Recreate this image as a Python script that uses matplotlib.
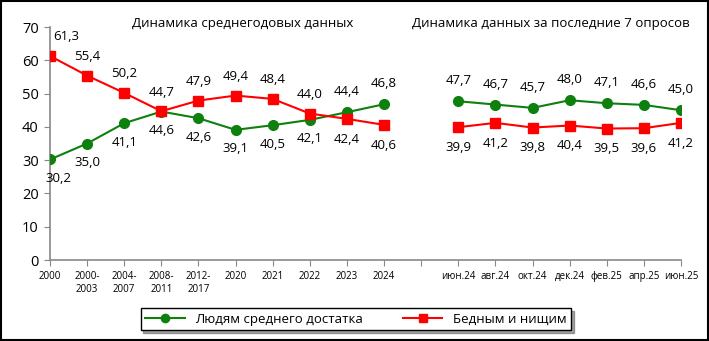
import matplotlib.pyplot as plt
from matplotlib.patches import Rectangle

plt.rcParams['font.family'] = ['Open Sans', 'DejaVu Sans']

# data
year_labels = ['2000', '2000-\n2003', '2004-\n2007', '2008-\n2011', '2012-\n2017',
               '2020', '2021', '2022', '2023', '2024']
survey_labels = ['июн.24', 'авг.24', 'окт.24', 'дек.24', 'фев.25', 'апр.25', 'июн.25']
middle_years = [30.2, 35.0, 41.1, 44.6, 42.6, 39.1, 40.5, 42.1, 44.4, 46.8]
poor_years = [61.3, 55.4, 50.2, 44.7, 47.9, 49.4, 48.4, 44.0, 42.4, 40.6]
middle_survey = [47.7, 46.7, 45.7, 48.0, 47.1, 46.6, 45.0]
poor_survey = [39.9, 41.2, 39.8, 40.4, 39.5, 39.6, 41.2]

green = '#0E800E'
red = '#FF0000'

fig = plt.figure(figsize=(7.09, 3.41), dpi=100)
ax = fig.add_axes([0.0705, 0.2375, 0.89, 0.6833])

x1 = list(range(len(year_labels)))
x2 = [len(year_labels) + 1 + i for i in range(len(survey_labels))]

ax.plot(x1, middle_years, color=green, marker='o', markersize=7, linewidth=1.5,
        label='Людям среднего достатка', zorder=3)
ax.plot(x2, middle_survey, color=green, marker='o', markersize=7, linewidth=1.5, zorder=3)
ax.plot(x1, poor_years, color=red, marker='s', markersize=7, linewidth=1.5,
        label='Бедным и нищим', zorder=3)
ax.plot(x2, poor_survey, color=red, marker='s', markersize=7, linewidth=1.5, zorder=3)

def fmt(v):
    return f'{v:.1f}'.replace('.', ',')

# data labels
for i, (g, r) in enumerate(zip(middle_years, poor_years)):
    g_up = g > r
    dxg = 6 if i == 0 else 0
    dxr = 12 if i == 0 else 0
    ax.annotate(fmt(g), (x1[i], g), xytext=(dxg, 10 if g_up else -9), textcoords='offset points',
                ha='center', va='bottom' if g_up else 'top', fontsize=9.5)
    ax.annotate(fmt(r), (x1[i], r), xytext=(dxr, 9 if not g_up else -10), textcoords='offset points',
                ha='center', va='bottom' if not g_up else 'top', fontsize=9.5)
for i, (g, r) in enumerate(zip(middle_survey, poor_survey)):
    ax.annotate(fmt(g), (x2[i], g), xytext=(0, 10), textcoords='offset points',
                ha='center', va='bottom', fontsize=9.5)
    ax.annotate(fmt(r), (x2[i], r), xytext=(0, -10), textcoords='offset points',
                ha='center', va='top', fontsize=9.5)

ax.set_xlim(0, x2[-1])
ax.set_ylim(0, 70)
ax.set_yticks(range(0, 71, 10))
ax.set_xticks(list(range(x2[-1] + 1)))
ax.set_xticklabels(year_labels + [''] + survey_labels, fontsize=7, va='top')
ax.tick_params(axis='y', labelsize=10.5, length=4, color='#888888', pad=4)
ax.tick_params(axis='x', length=4, color='#888888', pad=4)
for s in ['top', 'right']:
    ax.spines[s].set_visible(False)
for s in ['left', 'bottom']:
    ax.spines[s].set_color('#888888')
    ax.spines[s].set_linewidth(1.2)

fig.text(243 / 709, 1 - 24 / 341, 'Динамика среднегодовых данных', ha='center', va='center', fontsize=9.5)
fig.text(551 / 709, 1 - 24 / 341, 'Динамика данных за последние 7 опросов', ha='center', va='center', fontsize=9.5)

leg = fig.legend(loc='center', bbox_to_anchor=(356 / 709, 1 - 319 / 341), ncol=2,
                 fancybox=False, shadow=True, edgecolor='black', fontsize=9.5,
                 handlelength=3, columnspacing=3, borderpad=0.35, markerscale=0.85)
leg.get_frame().set_linewidth(1.0)

fig.patches.append(Rectangle((0.001, 0.003), 0.997, 0.995, transform=fig.transFigure,
                             fill=False, edgecolor='black', linewidth=1.5))

plt.savefig('out.png', dpi=100)
